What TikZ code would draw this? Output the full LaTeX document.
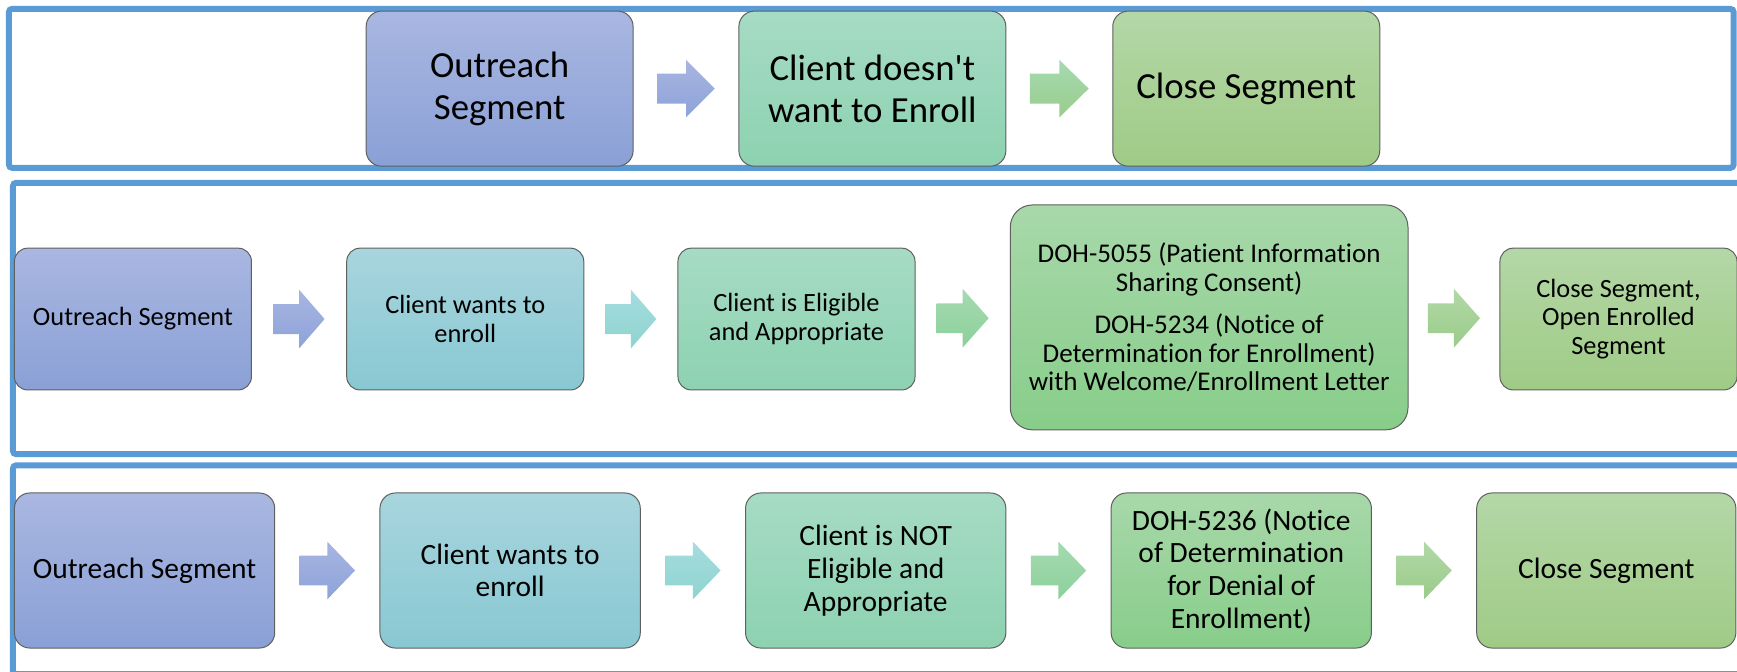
\documentclass[tikz,border=0pt]{standalone}
\usepackage{fontspec}
\setmainfont{Carlito}[Ligatures={NoCommon}]
\usetikzlibrary{calc}
\definecolor{frameblue}{HTML}{5B9BD5}
\definecolor{boxline}{HTML}{5F5F5F}
\tikzset{
  frame/.style={draw=frameblue, line width=2.7pt, rounded corners=1.5pt},
  box/.style={draw=boxline, line width=0.45pt, rounded corners=7pt, align=center, inner sep=2pt},
  rowA/.style={box, minimum width=120.5pt, minimum height=70pt, font=\fontsize{16.6}{19}\selectfont},
  rowB/.style={box, minimum width=107pt, minimum height=64pt, rounded corners=6pt, font=\fontsize{11.9}{13}\selectfont},
  rowC/.style={box, minimum width=117.5pt, minimum height=70pt, font=\fontsize{13.3}{14.75}\selectfont},
  purple/.style={top color=purpleT, bottom color=purpleB},
  teal/.style={top color=tealT, bottom color=tealB},
  mint/.style={top color=mintT, bottom color=mintB},
  green/.style={top color=greenT, bottom color=greenB},
  olive/.style={top color=oliveT, bottom color=oliveB},
}
\definecolor{purpleT}{HTML}{A9B7E1}\definecolor{purpleB}{HTML}{8AA0D6}
\definecolor{tealT}{HTML}{A8D5DE}\definecolor{tealB}{HTML}{88C8D2}
\definecolor{mintT}{HTML}{A6DBC4}\definecolor{mintB}{HTML}{8DD2B1}
\definecolor{greenT}{HTML}{A8D8AA}\definecolor{greenB}{HTML}{88CD8A}
\definecolor{oliveT}{HTML}{B4D7A7}\definecolor{oliveB}{HTML}{9FCB86}
\definecolor{aPurpleT}{HTML}{A7B5E1}\definecolor{aPurpleB}{HTML}{8EA3D9}
\definecolor{aTealT}{HTML}{A6DCE0}\definecolor{aTealB}{HTML}{8ED4CE}
\definecolor{aGreenT}{HTML}{A5DAB2}\definecolor{aGreenB}{HTML}{8CD09A}
\definecolor{aOliveT}{HTML}{B2D8A6}\definecolor{aOliveB}{HTML}{9ACC8A}
% block arrow between two named nodes: #1 from, #2 to, #3 half length, #4 half width, #5 half body, #6 top col, #7 bottom col, #8 name
\newcommand\blockarrow[8]{%
  \coordinate (#8) at ($(#1.east)!0.5!(#2.west)$);
  \shade[top color=#6, bottom color=#7]
    ($(#8)+(-#3,-#5)$) -- ($(#8)+(0,-#5)$) -- ($(#8)+(0,-#4)$) -- ($(#8)+(#3,0)$)
    -- ($(#8)+(0,#4)$) -- ($(#8)+(0,#5)$) -- ($(#8)+(-#3,#5)$) -- cycle;
}
\begin{document}
\begin{tikzpicture}[x=0.5pt,y=-0.5pt]
\useasboundingbox (0,0) rectangle (1568,606);
\clip (0,0) rectangle (1568,606);
% frames
\draw[frame] (8,8) rectangle (1565,151.5);
\draw[frame] (11.7,165) rectangle (1590,410);
\draw[frame] (11.7,420) rectangle (1590,608.5);
% row 1
\node[rowA, purple] (a1) at (451,80) {Outreach\\Segment};
\node[rowA, mint] (a2) at (787.5,80) {Client doesn\textquotesingle t\\want to Enroll};
\node[rowA, olive] (a3) at (1125,80) {Close Segment};
\blockarrow{a1}{a2}{26}{26}{13.5}{aPurpleT}{aPurpleB}{ma1}
\blockarrow{a2}{a3}{26.5}{26}{13.5}{aGreenT}{aOliveB}{ma2}
% row 2
\node[rowB, purple] (b1) at (120,288) {Outreach Segment};
\node[rowB, teal] (b2) at (420,288) {Client wants to\\enroll};
\node[rowB, mint] (b3) at (719,288) {Client is Eligible\\and Appropriate};
\node[box, green, minimum width=179.5pt, minimum height=101.5pt, rounded corners=10pt,
      font=\fontsize{12.2}{13}\selectfont] (b4) at (1091.5,286.5)
  {DOH-5055 (Patient Information\\Sharing Consent)\\[6pt]DOH-5234 (Notice of\\Determination for Enrollment)\\with Welcome/Enrollment Letter};
\node[rowB, olive] (b5) at (1461,288) {Close Segment,\\Open Enrolled\\Segment};
\blockarrow{b1}{b2}{23}{26.5}{13.5}{aPurpleT}{aPurpleB}{mb1}
\blockarrow{b2}{b3}{23}{26.5}{13.5}{aTealT}{aTealB}{mb2}
\blockarrow{b3}{b4}{23.5}{26.5}{13.5}{aGreenT}{aGreenB}{mb3}
\blockarrow{b4}{b5}{23.5}{26.5}{13.5}{aOliveT}{aOliveB}{mb4}
% row 3
\node[rowC, purple] (c1) at (130.5,515) {Outreach Segment};
\node[rowC, teal] (c2) at (460.5,515) {Client wants to\\enroll};
\node[rowC, mint] (c3) at (790.5,515) {Client is NOT\\Eligible and\\Appropriate};
\node[rowC, green] (c4) at (1120.5,515) {DOH-5236 (Notice\\of Determination\\for Denial of\\Enrollment)};
\node[rowC, olive, minimum width=117pt] (c5) at (1450,515) {Close Segment};
\blockarrow{c1}{c2}{25}{26}{13.5}{aPurpleT}{aPurpleB}{mc1}
\blockarrow{c2}{c3}{25}{26}{13.5}{aTealT}{aTealB}{mc2}
\blockarrow{c3}{c4}{25}{26}{13.5}{aGreenT}{aGreenB}{mc3}
\blockarrow{c4}{c5}{25}{26}{13.5}{aOliveT}{aOliveB}{mc4}
\end{tikzpicture}
\end{document}
